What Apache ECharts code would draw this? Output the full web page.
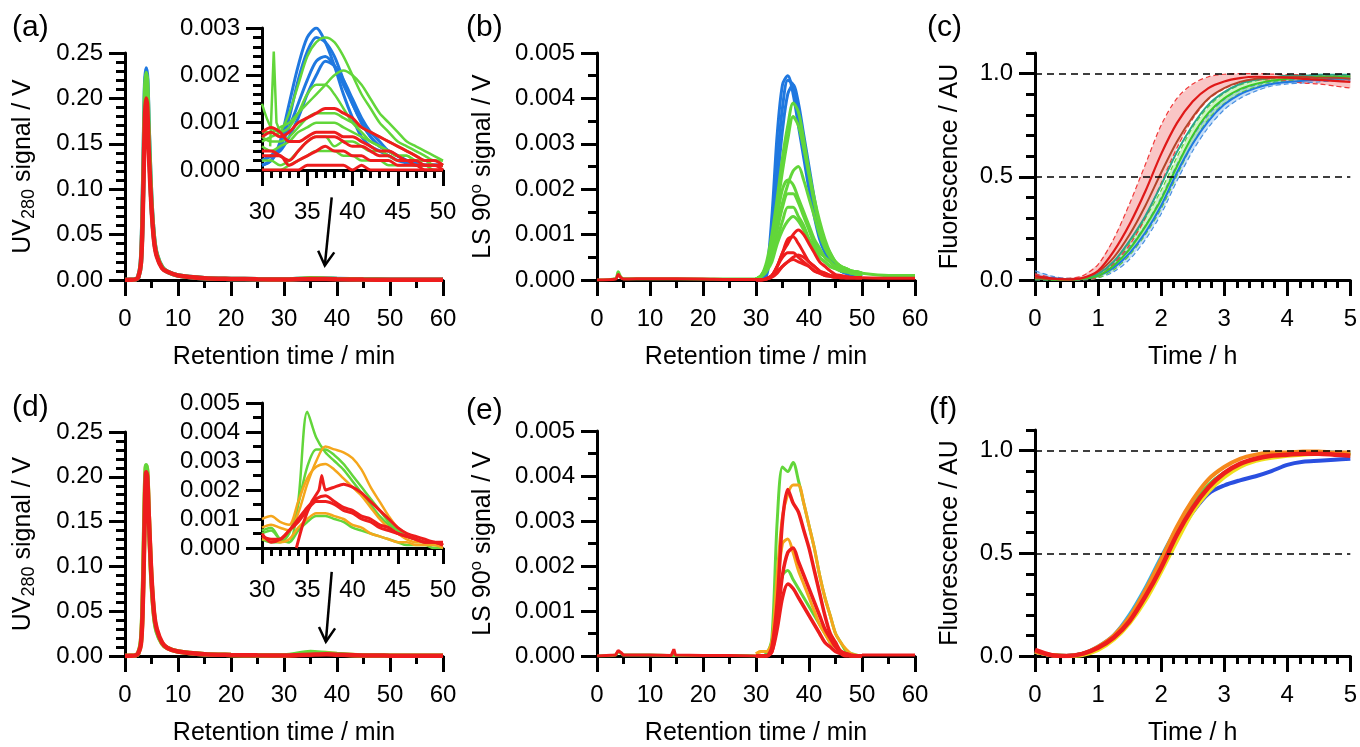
<!DOCTYPE html>
<html><head><meta charset="utf-8">
<script src="https://cdn.jsdelivr.net/npm/echarts@6/dist/echarts.min.js"></script>
<style>html,body{margin:0;padding:0;background:#fff}#c{width:1360px;height:747px}</style>
</head><body><div id="c"></div>
<script>
// ---------------- DATA ----------------
// UV280 main chromatograms (panels a, d)
const uvT = [0,1,2,2.5,3,3.3,3.6,3.8,4.0,4.2,4.5,5,5.5,6,7,8,10,15,20,25,30,35,38,40,45,50,60];
const aUvBlue  = [0,0.0002,0.0008,0.003,0.02,0.07,0.16,0.215,0.233,0.22,0.16,0.085,0.045,0.028,0.014,0.009,0.005,0.002,0.0012,0.0008,0.0006,0.0015,0.0015,0.0012,0.0006,0.0004,0.0002];
const aUvGreen = [0,0.0002,0.0008,0.003,0.019,0.068,0.155,0.21,0.228,0.216,0.158,0.085,0.045,0.028,0.014,0.009,0.005,0.002,0.0012,0.0008,0.0006,0.0018,0.0015,0.0012,0.0006,0.0004,0.0002];
const aUvRed   = [0,0.0002,0.0007,0.003,0.018,0.06,0.14,0.185,0.2,0.19,0.14,0.08,0.042,0.026,0.013,0.009,0.005,0.002,0.0012,0.0008,0.0006,0.001,0.001,0.0008,0.0005,0.0003,0.0002];
const dUvOrange= [0,0.0002,0.0008,0.003,0.015,0.05,0.13,0.19,0.212,0.205,0.155,0.085,0.045,0.028,0.014,0.009,0.005,0.002,0.0012,0.0008,0.0006,0.0025,0.0033,0.002,0.0006,0.0004,0.0002];
const dUvGreen = [0,0.0002,0.0008,0.003,0.016,0.052,0.135,0.192,0.213,0.205,0.153,0.084,0.044,0.027,0.014,0.009,0.005,0.002,0.0012,0.0008,0.0006,0.0045,0.003,0.0022,0.0006,0.0004,0.0002];
const dUvRed   = [0,0.0002,0.0007,0.003,0.013,0.045,0.12,0.18,0.205,0.2,0.155,0.088,0.047,0.03,0.015,0.009,0.005,0.002,0.0012,0.0008,0.0006,0.0015,0.002,0.0015,0.0006,0.0004,0.0002];

// Peak region time grid (insets and LS peaks)
const peakT = [30,31,32,33,34,35,36,37,38,39,40,41,42,43,44,45,46,47,48,49,50];

// Inset (a) UV280 30-50 min
const aInsBlue1 = [0.0001,0.0002,0.0006,0.0014,0.0022,0.0028,0.0030,0.0027,0.0022,0.0016,0.0011,0.0007,0.0005,0.0004,0.0003,0.0002,0.00015,0.0001,0.0001,0.0001,0.0001];
const aInsBlue2 = [0.0001,0.0002,0.0005,0.0011,0.0019,0.0025,0.0028,0.0027,0.0024,0.0019,0.0014,0.0010,0.0007,0.0005,0.0004,0.0003,0.0002,0.00015,0.0001,0.0001,0.0001];
const aInsBlue3 = [0.0002,0.0003,0.0005,0.0009,0.0014,0.0019,0.0023,0.0024,0.0022,0.0018,0.0014,0.0010,0.0007,0.0005,0.0004,0.0003,0.0002,0.00015,0.0001,0.0001,0.0001];
const aInsBlue4 = [0.0002,0.0003,0.0004,0.0007,0.0011,0.0016,0.0020,0.0023,0.0022,0.0019,0.0015,0.0011,0.0008,0.0006,0.0004,0.0003,0.0002,0.00015,0.0001,0.0001,0.0001];
const aInsGreen1 = [0.0006,0.0007,0.0008,0.0012,0.0018,0.0024,0.0027,0.0028,0.0027,0.0024,0.0020,0.0016,0.0013,0.0010,0.0008,0.0006,0.0005,0.0004,0.0003,0.0002,0.0002];
const aInsGreen2 = [0.0008,0.0008,0.0009,0.0010,0.0012,0.0014,0.0016,0.0018,0.0020,0.0021,0.0020,0.0018,0.0015,0.0012,0.0010,0.0008,0.0006,0.0005,0.0004,0.0003,0.0002];
const aInsGreen3 = [0.0014,0.0009,0.0008,0.0009,0.0012,0.0016,0.0018,0.0018,0.0016,0.0013,0.0010,0.0008,0.0006,0.0005,0.0004,0.0003,0.0003,0.0002,0.0002,0.0001,0.0001];
const aInsGreen4 = [0.0007,0.0006,0.0006,0.0007,0.0009,0.0011,0.0012,0.0012,0.0012,0.0011,0.0010,0.0009,0.0008,0.0007,0.0006,0.0005,0.0004,0.0003,0.0002,0.0002,0.0001];
const aInsGreen5 = [0.0005,0.0004,0.0005,0.0006,0.0008,0.0009,0.0010,0.0010,0.0010,0.0009,0.0008,0.0007,0.0006,0.0005,0.0004,0.0003,0.0003,0.0002,0.0002,0.0001,0.0001];
const aInsGreen6 = [0.0002,0.0002,0.0001,0.0002,0.0004,0.0006,0.0007,0.0007,0.0005,0.0006,0.0006,0.0005,0.0004,0.0004,0.0003,0.0002,0.0002,0.0002,0.0001,0.0001,0.0001];
const aInsGreen7 = [0.0000,0.0000,0.0000,0.0001,0.0002,0.0003,0.0004,0.0004,0.0004,0.0003,0.0003,0.0002,0.0002,0.0002,0.0001,0.0001,0.0001,0.0001,0.0001,0.0000,0.0000];
const aInsSpikeT = [30.9,31.3,31.6,32.0];
const aInsSpikeV = [0.0005,0.0025,0.0010,0.0008];
const aInsRed1 = [0.0007,0.0008,0.0007,0.0008,0.0010,0.0011,0.0012,0.0013,0.0013,0.0012,0.0011,0.0009,0.0008,0.0007,0.0006,0.0005,0.0004,0.0003,0.0002,0.0002,0.0001];
const aInsRed2 = [0.0008,0.0009,0.0008,0.0006,0.0006,0.0007,0.0008,0.0008,0.0008,0.0007,0.0007,0.0006,0.0005,0.0004,0.0004,0.0003,0.0002,0.0002,0.0001,0.0001,0.0001];
const aInsRed3 = [0.0004,0.0004,0.0003,0.0002,0.0004,0.0006,0.0007,0.0007,0.0007,0.0006,0.0005,0.0005,0.0004,0.0003,0.0003,0.0002,0.0002,0.0001,0.0001,0.0001,0.0000];
const aInsRed4 = [0.0003,0.0003,0.0003,0.0001,0.0002,0.0003,0.0004,0.0005,0.0004,0.0004,0.0003,0.0003,0.0002,0.0002,0.0002,0.0001,0.0001,0.0001,0.0000,0.0000,0.0000];
const aInsRed5 = [0.0000,0.0000,0.0000,0.0000,0.0000,0.0001,0.0001,0.0001,0.0001,0.0001,0.0000,0.0001,0.0000,0.0000,0.0000,0.0000,0.0000,0.0000,0.0000,0.0000,0.0000];

// Panel (b) LS 90
const bBaseT = [0,3.5,4,4.5,5,10,20,25,30];
const bBaseGreen = [0,0.00003,0.00018,0.00006,0.00003,0.00003,0.00002,0.00002,0.00002];
const bBaseRed   = [0,0.00002,0.00012,0.00005,0.00002,0.00003,0.00002,0.00001,0.00001];
const tailT = [50,55,60];
const bTailGreen = [0.00015,0.0001,0.0001];
const bTailRed   = [0.00005,0.00004,0.00004];
const bBlue1 = [0,0.00002,0.0002,0.0014,0.0032,0.0043,0.0045,0.0041,0.0034,0.0027,0.0020,0.0014,0.0009,0.0006,0.0004,0.0003,0.0002,0.00015,0.0001,0.0001,0.00008];
const bBlue2 = [0,0.00002,0.00015,0.0010,0.0026,0.0038,0.0044,0.0043,0.0037,0.0030,0.0023,0.0016,0.0011,0.0007,0.0005,0.0003,0.0002,0.00015,0.0001,0.0001,0.00008];
const bBlue3 = [0,0.00002,0.0001,0.0008,0.0021,0.0033,0.0041,0.0043,0.0039,0.0032,0.0025,0.0018,0.0012,0.0008,0.0005,0.0003,0.0002,0.00015,0.0001,0.0001,0.00008];
const bGreen1 = [0.00002,0.0001,0.0004,0.0010,0.0018,0.0027,0.0034,0.0039,0.0037,0.0031,0.0024,0.0018,0.0013,0.0009,0.0006,0.0004,0.0003,0.00025,0.0002,0.00018,0.00015];
const bGreen2 = [0.00002,0.0001,0.0003,0.0008,0.0016,0.0024,0.0031,0.0036,0.0034,0.0029,0.0023,0.0017,0.0012,0.0008,0.0006,0.0004,0.0003,0.00025,0.0002,0.00018,0.00015];
const bGreen3 = [0.00002,0.0001,0.0003,0.0007,0.0012,0.0017,0.0021,0.0024,0.0025,0.0022,0.0018,0.0014,0.0010,0.0007,0.0005,0.0004,0.0003,0.00025,0.0002,0.00018,0.00015];
const bGreen4 = [0.00002,0.0001,0.0003,0.0008,0.0014,0.0020,0.0022,0.0021,0.0018,0.0015,0.0012,0.0009,0.0007,0.0005,0.0004,0.0003,0.00025,0.0002,0.00018,0.00015,0.00012];
const bGreen5 = [0.00002,0.00008,0.0002,0.0006,0.0011,0.0016,0.0019,0.0019,0.0017,0.0014,0.0011,0.0008,0.0006,0.0005,0.0004,0.0003,0.00025,0.0002,0.00018,0.00015,0.00012];
const bGreen6 = [0.00002,0.00008,0.0002,0.0005,0.0009,0.0013,0.0016,0.0016,0.0014,0.0012,0.0009,0.0007,0.0005,0.0004,0.0003,0.00025,0.0002,0.00018,0.00015,0.00012,0.0001];
const bGreen7 = [0.00002,0.00008,0.0002,0.0004,0.0008,0.0011,0.0013,0.0014,0.0013,0.0011,0.0009,0.0007,0.0005,0.0004,0.0003,0.00025,0.0002,0.00018,0.00015,0.00012,0.0001];
const bRed1 = [0,0,0.00003,0.0001,0.0003,0.0006,0.0008,0.0010,0.0011,0.0010,0.0008,0.0006,0.0004,0.0003,0.0002,0.00012,0.0001,0.00008,0.00006,0.00005,0.00005];
const bRed2 = [0,0,0.00003,0.0001,0.0003,0.0006,0.0009,0.00095,0.0008,0.0006,0.0004,0.0003,0.0002,0.00015,0.0001,0.00008,0.00006,0.00005,0.00005,0.00005,0.00005];
const bRed3 = [0,0,0.00003,0.0001,0.0003,0.0005,0.0006,0.0006,0.0005,0.0004,0.0003,0.0002,0.00015,0.0001,0.00008,0.00006,0.00005,0.00005,0.00005,0.00005,0.00005];
const bRed4 = [0,0,0.00002,0.00008,0.0002,0.0003,0.0004,0.0005,0.00055,0.0005,0.0004,0.0003,0.0002,0.00015,0.0001,0.00008,0.00006,0.00005,0.00005,0.00005,0.00005];
const bRed5 = [0,0,0.00002,0.00006,0.00015,0.0003,0.0004,0.00045,0.0004,0.00035,0.0003,0.0002,0.00015,0.0001,0.00008,0.00006,0.00005,0.00005,0.00005,0.00005,0.00005];

// Panels (c), (f) fluorescence
const fT = [0,0.25,0.5,0.75,1,1.25,1.5,1.75,2,2.25,2.5,2.75,3,3.25,3.5,3.75,4,4.25,4.5,4.75,5];
const refLevels = [0.5, 1.0];
const cRedMean  = [0.02,0.008,0.003,0.01,0.045,0.14,0.27,0.43,0.61,0.76,0.865,0.93,0.962,0.978,0.985,0.983,0.98,0.975,0.97,0.965,0.96];
const cRedErr   = [0.01,0.005,0.005,0.01,0.03,0.06,0.1,0.13,0.14,0.12,0.085,0.055,0.035,0.022,0.015,0.015,0.015,0.02,0.02,0.025,0.03];
const cGreenMean= [0.01,0.003,0.0,0.005,0.02,0.07,0.15,0.26,0.39,0.55,0.7,0.81,0.88,0.925,0.95,0.965,0.975,0.98,0.985,0.985,0.985];
const cGreenErr = [0.01,0.005,0.005,0.005,0.01,0.02,0.03,0.04,0.045,0.045,0.04,0.03,0.025,0.02,0.015,0.01,0.01,0.01,0.01,0.01,0.01];
const cBlueMean = [0.02,0.01,0.003,0.005,0.02,0.06,0.13,0.23,0.36,0.52,0.66,0.77,0.85,0.9,0.93,0.95,0.96,0.965,0.97,0.975,0.975];
const cBlueErr  = [0.025,0.01,0.005,0.005,0.01,0.02,0.03,0.035,0.04,0.04,0.035,0.03,0.025,0.02,0.015,0.01,0.01,0.01,0.01,0.01,0.01];
const cBrownMean= [0.01,0.005,0.002,0.008,0.04,0.11,0.22,0.36,0.52,0.67,0.79,0.88,0.93,0.96,0.975,0.98,0.985,0.985,0.98,0.98,0.975];
const cTealMean = [0.01,0.005,0.002,0.006,0.03,0.09,0.19,0.31,0.46,0.62,0.75,0.85,0.91,0.95,0.97,0.98,0.99,0.99,0.995,0.995,0.995];

const fBlue   = [0.02,0.005,0.0,0.01,0.04,0.09,0.18,0.3,0.44,0.58,0.7,0.79,0.83,0.855,0.875,0.9,0.93,0.945,0.95,0.955,0.96];
const fLBlue  = [0.02,0.005,0.0,0.01,0.045,0.1,0.2,0.33,0.48,0.62,0.74,0.83,0.89,0.93,0.96,0.975,0.985,0.99,0.99,0.99,0.985];
const fGreen  = [0.02,0.005,0.0,0.01,0.04,0.09,0.18,0.3,0.45,0.6,0.73,0.83,0.89,0.93,0.955,0.97,0.98,0.985,0.985,0.985,0.98];
const fYellow = [0.02,0.005,0.0,0.005,0.03,0.08,0.16,0.27,0.41,0.56,0.7,0.8,0.87,0.92,0.95,0.965,0.975,0.98,0.985,0.985,0.98];
const fOrange = [0.02,0.005,0.0,0.01,0.045,0.1,0.19,0.32,0.47,0.63,0.76,0.86,0.92,0.96,0.98,0.99,0.99,0.995,0.995,0.99,0.99];
const fRed    = [0.03,0.005,0.0,0.01,0.04,0.09,0.17,0.29,0.43,0.59,0.72,0.82,0.89,0.935,0.96,0.975,0.98,0.985,0.985,0.98,0.975];

// Inset (d)
const dInsGreen1 = [0.0006,0.0007,0.0003,0.0002,0.0016,0.0047,0.0038,0.0033,0.0030,0.0027,0.0023,0.0019,0.0015,0.0011,0.0008,0.0006,0.0004,0.0003,0.0002,0.0002,0.0001];
const dInsGreen2 = [0.0003,0.0002,0.0002,0.0005,0.0015,0.0028,0.0034,0.0034,0.0032,0.0029,0.0025,0.0021,0.0017,0.0013,0.0009,0.0006,0.0004,0.0003,0.0002,0.0001,0.0001];
const dInsGreen3 = [0.0005,0.0006,0.0003,0.0002,0.0006,0.0009,0.0011,0.0011,0.0010,0.0009,0.0007,0.0006,0.0005,0.0004,0.0003,0.0002,0.0001,0.0001,0.0001,0.0000,0.0000];
const dInsOrange1= [0.0007,0.0008,0.0007,0.0006,0.0012,0.0022,0.0030,0.0035,0.0034,0.0033,0.0031,0.0027,0.0021,0.0016,0.0011,0.0007,0.0005,0.0003,0.0002,0.0002,0.0001];
const dInsOrange2= [0.0010,0.0011,0.0009,0.0008,0.0016,0.0024,0.0028,0.0029,0.0027,0.0024,0.0021,0.0018,0.0014,0.0010,0.0007,0.0005,0.0003,0.0002,0.0002,0.0001,0.0001];
const dInsOrange3= [0.0003,0.0003,0.0002,0.0003,0.0007,0.0010,0.0012,0.0012,0.0011,0.0010,0.0008,0.0007,0.0005,0.0004,0.0003,0.0002,0.0002,0.0001,0.0001,0.0001,0.0000];
const dInsRed1T  = [33.8,34.5,35.5,36.3,36.6,37,38,39,40,41,42,43,44,45,46,47,48,49,50];
const dInsRed1V  = [0,0.0008,0.0016,0.0020,0.0025,0.0020,0.0021,0.0022,0.0021,0.0019,0.0016,0.0013,0.0010,0.0007,0.0005,0.0004,0.0003,0.0002,0.0002];
const dInsRed2 = [0.0004,0.0003,0.0003,0.0006,0.0010,0.0014,0.0017,0.0018,0.0016,0.0014,0.0013,0.0011,0.0010,0.0008,0.0007,0.0005,0.0004,0.0003,0.0002,0.0002,0.0001];
const dInsRed3 = [0.0005,0.0002,0.0003,0.0006,0.0009,0.0013,0.0016,0.0016,0.0015,0.0013,0.0012,0.0010,0.0009,0.0007,0.0006,0.0005,0.0004,0.0003,0.0002,0.0002,0.0001];

// Panel (e) LS 90
const eBaseT = [0,3.5,4,4.5,5,10,14,14.5,14.8,15,20,25,30];
const eBaseRed = [0,0.00002,0.00012,0.00008,0.00002,0.00002,0.00001,0.00015,0.00002,0.00001,0.00001,0.00001,0];
const eBaseGreen = [0,0.00002,0.0001,0.00006,0.00002,0.00002,0.00001,0.00001,0.00001,0.00001,0.00001,0.00001,0];
const eTail = [0.00002,0.00002,0.00002];
const eGreen1 = [0,0,0.00005,0.0004,0.0030,0.0042,0.0041,0.0043,0.0039,0.0034,0.0029,0.0024,0.0018,0.0013,0.0009,0.0005,0.0003,0.0001,0.00005,0.00002,0];
const eOrange1= [0.00005,0.0001,0.0001,0.0003,0.0018,0.0031,0.0036,0.0038,0.0038,0.0034,0.0029,0.0024,0.0018,0.0013,0.0009,0.0005,0.0003,0.00015,0.00005,0.00002,0];
const eRed1   = [0,0,0,0.0002,0.0012,0.0030,0.0037,0.0034,0.0032,0.0028,0.0024,0.0019,0.0014,0.0009,0.0005,0.0003,0.0001,0.00005,0.00002,0,0];
const eOrange2= [0.00005,0.0001,0.0001,0.0003,0.0015,0.0025,0.0026,0.0023,0.0019,0.0016,0.0013,0.0010,0.0007,0.0005,0.0003,0.0002,0.0001,0.00005,0,0,0];
const eRed2   = [0,0,0,0.0001,0.0008,0.0018,0.0023,0.0024,0.0021,0.0018,0.0015,0.0012,0.0009,0.0006,0.0004,0.0002,0.0001,0.00005,0,0,0];
const eGreen2 = [0,0,0.00005,0.0003,0.0011,0.0018,0.0019,0.0017,0.0015,0.0013,0.0011,0.0009,0.0007,0.0005,0.0003,0.0002,0.0001,0.00005,0,0,0];
const eRed3   = [0,0,0,0.0001,0.0006,0.0013,0.0016,0.0015,0.0013,0.0011,0.0009,0.0007,0.0005,0.0003,0.0002,0.0001,0.00005,0,0,0,0];

// Arrow annotations (data coords of main UV axes): [from, to]
const arrowA = [[39.0, 0.091],[37.7, 0.016]];
const arrowD = [[39.0, 0.094],[37.9, 0.016]];

// ---------------- STYLE ----------------
const FONT = 'Liberation Sans, Arial, sans-serif';
const BLUE='#1f78e0', GREEN='#62d63a', RED='#ee1d1d', ORANGE='#f5a61c';
const FDBLUE='#2a4fe0', FLBLUE='#2ab2ee', FYELLOW='#efe01c', FORANGE='#f5891c';
const TICK=24, TITLE=25;

const grids = [
  {left:125, top:53,  width:318, height:227}, // a
  {left:262, top:28,  width:181, height:142}, // a inset
  {left:597, top:53,  width:318, height:227}, // b
  {left:1035,top:53,  width:317, height:227}, // c
  {left:125, top:432, width:318, height:225}, // d
  {left:262, top:403, width:181, height:145}, // d inset
  {left:597, top:431, width:318, height:225}, // e
  {left:1035,top:430, width:317, height:227}  // f
];

const axLine = {show:true, onZero:false, lineStyle:{color:'#000', width:3}};
function xAx(gi, min, max, interval, minorSplit, name, margin) {
  return {type:'value', gridIndex:gi, min, max, interval,
    axisLine:axLine, splitLine:{show:false},
    axisTick:{show:true, inside:false, length:16, lineStyle:{color:'#000', width:3}},
    minorTick:{show:true, splitNumber:minorSplit, length:8, lineStyle:{color:'#000', width:3}},
    axisLabel:{color:'#000', fontSize:TICK, fontFamily:FONT, margin:margin, formatter:v=>String(v)},
    name:name||'', nameLocation:'middle', nameGap:65,
    nameTextStyle:{color:'#000', fontSize:TITLE, fontFamily:FONT}};
}
const richName = {
  t:{fontSize:TITLE, fontFamily:FONT, color:'#000'},
  s:{fontSize:18, fontFamily:FONT, color:'#000', padding:[12,0,0,0]},
  p:{fontSize:17, fontFamily:FONT, color:'#000', padding:[0,0,14,0]}
};
function yAx(gi, min, max, interval, minorSplit, dec, name, gap) {
  return {type:'value', gridIndex:gi, min, max, interval,
    axisLine:axLine, splitLine:{show:false},
    axisTick:{show:true, inside:false, length:16, lineStyle:{color:'#000', width:3}},
    minorTick:{show:minorSplit>1, splitNumber:minorSplit, length:9, lineStyle:{color:'#000', width:3}},
    axisLabel:{color:'#000', fontSize:TICK, fontFamily:FONT, margin:22, formatter:v=>v.toFixed(dec)},
    name:name||'', nameLocation:'middle', nameGap:gap||0,
    nameTextStyle:{color:'#000', fontSize:TITLE, fontFamily:FONT, rich:richName}};
}
function yFluo(gi, name) {
  return {type:'value', gridIndex:gi, min:0, max:1.1, interval:0.1,
    axisLine:axLine, splitLine:{show:false},
    axisTick:{show:true, inside:false, length:9, lineStyle:{color:'#000', width:3}},
    axisLabel:{show:false},
    name:name, nameLocation:'middle', nameGap:72,
    nameTextStyle:{color:'#000', fontSize:TITLE, fontFamily:FONT}};
}
function yFluoMajor(gi) {
  return {type:'value', gridIndex:gi, min:0, max:1.1, position:'left',
    axisLine:{show:false}, splitLine:{show:false},
    axisTick:{show:true, inside:false, length:16, customValues:[0,0.5,1.0], lineStyle:{color:'#000', width:3}},
    axisLabel:{color:'#000', fontSize:TICK, fontFamily:FONT, margin:22, customValues:[0,0.5,1.0], formatter:v=>v.toFixed(1)}};
}
const uvName = '{t|UV}{s|280}{t| signal / V}';
const lsName = '{t|LS 90}{p|o}{t| signal / V}';
const xAxes = [
  xAx(0,0,60,10,2,'Retention time / min',27),
  xAx(1,30,50,5,5,'',30),
  xAx(2,0,60,10,2,'Retention time / min',27),
  xAx(3,0,5,1,5,'Time / h',27),
  xAx(4,0,60,10,2,'Retention time / min',27),
  xAx(5,30,50,5,5,'',30),
  xAx(6,0,60,10,2,'Retention time / min',27),
  xAx(7,0,5,1,5,'Time / h',27)
];
const yAxes = [
  yAx(0,0,0.25,0.05,5,2,uvName,87),
  yAx(1,0,0.003,0.001,5,3,'',0),
  yAx(2,0,0.005,0.001,2,3,lsName,98),
  yFluo(3,'Fluorescence / AU'),
  yAx(4,0,0.25,0.05,5,2,uvName,87),
  yAx(5,0,0.005,0.001,2,3,'',0),
  yAx(6,0,0.005,0.001,2,3,lsName,98),
  yFluo(7,'Fluorescence / AU'),
  yFluoMajor(3),
  yFluoMajor(7)
];

const series = [];
function pairs(xs, ys){ return xs.map((x,i)=>[x, ys[i]]); }
function add(gi, xs, ys, color, width, extra, yi) {
  series.push(Object.assign({type:'line', xAxisIndex:gi, yAxisIndex:(yi===undefined?gi:yi),
    data:pairs(xs,ys), symbol:'none', showSymbol:false, smooth:0.3, silent:true,
    lineStyle:{color:color, width:width}, itemStyle:{color:color}}, extra||{}));
}
// (a) main
add(0, uvT, aUvBlue, BLUE, 4.5);
add(0, uvT, aUvGreen, GREEN, 4.5);
add(0, uvT, aUvRed, RED, 4.5);
// (a) inset
[aInsBlue1,aInsBlue2,aInsBlue3,aInsBlue4].forEach(a=>add(1, peakT, a, BLUE, 3));
[aInsGreen1,aInsGreen2,aInsGreen3,aInsGreen4,aInsGreen5,aInsGreen6,aInsGreen7].forEach(a=>add(1, peakT, a, GREEN, 2.5));
add(1, aInsSpikeT, aInsSpikeV, GREEN, 2.5, {smooth:false});
[aInsRed1,aInsRed2,aInsRed3,aInsRed4,aInsRed5].forEach(a=>add(1, peakT, a, RED, 3));
// (b)
add(2, bBaseT, bBaseGreen, GREEN, 3);
add(2, tailT, bTailGreen, GREEN, 3);
[bBlue1,bBlue2,bBlue3].forEach(a=>add(2, peakT, a, BLUE, 3));
[bGreen1,bGreen2,bGreen3,bGreen4,bGreen5,bGreen6,bGreen7].forEach(a=>add(2, peakT, a, GREEN, 3));
[bRed1,bRed2,bRed3,bRed4,bRed5].forEach(a=>add(2, peakT, a, RED, 3));
add(2, bBaseT, bBaseRed, RED, 3);
add(2, tailT, bTailRed, RED, 3);
// (c) error bands (polygon through axis scale) and dashed cap edges
function band(gi, mean, err, fill, edge) {
  const lo = mean.map((m,i)=>m-err[i]);
  const hi = mean.map((m,i)=>Math.min(1.0, m+err[i]));
  series.push({type:'custom', xAxisIndex:gi, yAxisIndex:gi, silent:true, clip:true, data:[[0,0]],
    renderItem:(params, api)=>{
      const up = fT.map((t,i)=>api.coord([t, hi[i]]));
      const dn = fT.map((t,i)=>api.coord([t, lo[i]])).reverse();
      return {type:'polygon', shape:{points:up.concat(dn)}, style:{fill:fill}};
    }});
  add(gi, fT, lo, edge, 1.2, {lineStyle:{color:edge, width:1.2, type:[5,3]}});
  add(gi, fT, hi, edge, 1.2, {lineStyle:{color:edge, width:1.2, type:[5,3]}});
}
band(3, cBlueMean, cBlueErr, 'rgba(90,160,235,0.35)', '#4a90e0');
band(3, cGreenMean, cGreenErr, 'rgba(120,220,90,0.35)', '#5fd03a');
band(3, cRedMean, cRedErr, 'rgba(240,120,120,0.42)', '#f03a3a');
add(3, fT, cBlueMean, BLUE, 2);
add(3, fT, cTealMean, '#2aa58a', 2);
add(3, fT, cGreenMean, '#3cc82a', 2);
add(3, fT, cBrownMean, '#b5452a', 2);
const refLine = {silent:true, symbol:'none', label:{show:false},
  lineStyle:{color:'#000', type:[7,5], width:1.6}, data:refLevels.map(v=>({yAxis:v}))};
add(3, fT, cRedMean, '#e01818', 2.2, {markLine:refLine});
// (d) main
add(4, uvT, dUvOrange, ORANGE, 4.5);
add(4, uvT, dUvGreen, GREEN, 4.5);
add(4, uvT, dUvRed, RED, 4.5);
// (d) inset
[dInsGreen1,dInsGreen2,dInsGreen3].forEach(a=>add(5, peakT, a, GREEN, 2.5));
[dInsOrange1,dInsOrange2,dInsOrange3].forEach(a=>add(5, peakT, a, ORANGE, 2.5));
add(5, dInsRed1T, dInsRed1V, RED, 3, {smooth:0.15});
[dInsRed2,dInsRed3].forEach(a=>add(5, peakT, a, RED, 3));
// (e)
add(6, eBaseT, eBaseGreen, GREEN, 3);
[eGreen1,eGreen2].forEach(a=>add(6, peakT, a, GREEN, 3));
[eOrange1,eOrange2].forEach(a=>add(6, peakT, a, ORANGE, 3));
[eRed1,eRed2,eRed3].forEach(a=>add(6, peakT, a, RED, 3.5));
add(6, eBaseT, eBaseRed, RED, 3, {smooth:false});
add(6, tailT, eTail, RED, 3);
// (f)
add(7, fT, fBlue, FDBLUE, 4);
add(7, fT, fLBlue, FLBLUE, 4);
add(7, fT, fGreen, GREEN, 4);
add(7, fT, fYellow, FYELLOW, 4);
add(7, fT, fOrange, FORANGE, 4);
add(7, fT, fRed, RED, 4.5, {markLine:refLine});

function lbl(text, left, top){ return {type:'text', left, top, style:{text, fontSize:30, fontFamily:FONT, fill:'#000'}}; }
const option = {
  animation:false, backgroundColor:'#fff',
  grid:grids, xAxis:xAxes, yAxis:yAxes, series:series,
  graphic:[lbl('(a)',12,13), lbl('(b)',466,13), lbl('(c)',927,13), lbl('(d)',12,393), lbl('(e)',466,396), lbl('(f)',929,395)]
};
const chart = echarts.init(document.getElementById('c'), null, {renderer:'canvas'});
chart.setOption(option);

function arrowEls(gi, arr, id) {
  const p0 = chart.convertToPixel({xAxisIndex:gi, yAxisIndex:gi}, arr[0]);
  const p1 = chart.convertToPixel({xAxisIndex:gi, yAxisIndex:gi}, arr[1]);
  const dx = p1[0]-p0[0], dy = p1[1]-p0[1];
  const L = Math.sqrt(dx*dx+dy*dy), ux = dx/L, uy = dy/L;
  const h = 14, s = Math.tan(Math.PI/6)*h;
  const b = [p1[0]-ux*h, p1[1]-uy*h];
  return [
    {type:'line', id:id+'s', shape:{x1:p0[0], y1:p0[1], x2:p1[0], y2:p1[1]}, style:{stroke:'#000', lineWidth:2.5}},
    {type:'polyline', id:id+'h', shape:{points:[[b[0]-uy*s, b[1]+ux*s],[p1[0],p1[1]],[b[0]+uy*s, b[1]-ux*s]]}, style:{stroke:'#000', lineWidth:2.5, fill:null}}
  ];
}
chart.setOption({graphic: option.graphic.concat(arrowEls(0, arrowA, 'arA'), arrowEls(4, arrowD, 'arD'))});
</script></body></html>
